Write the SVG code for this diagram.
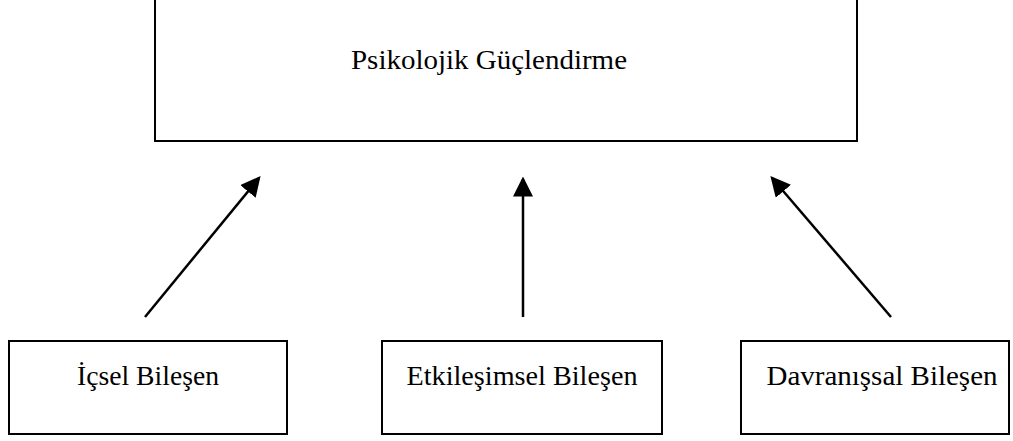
<svg xmlns="http://www.w3.org/2000/svg" width="1013" height="441" viewBox="0 0 1013 441">
<defs>
<style>
.box{fill:#fff;stroke:#000;stroke-width:2}
.lbl{font-family:"Liberation Serif","DejaVu Serif",serif;font-size:27px;fill:#000;text-anchor:middle}
.conn{stroke:#000;stroke-width:2.5;fill:none}
</style>
<marker id="ah" markerWidth="8" markerHeight="8" refX="7" refY="4" orient="auto" markerUnits="strokeWidth">
<path d="M0,0 L8,4 L0,8 Z" fill="#000"/>
</marker>
</defs>
<rect width="1013" height="441" fill="#fff"/>
<g id="top">
<rect class="box" x="155" y="-1" width="702" height="142"/>
<text class="lbl" x="489" y="69" textLength="276" lengthAdjust="spacingAndGlyphs">Psikolojik Güçlendirme</text>
</g>
<g id="n1">
<rect class="box" x="9" y="341" width="278" height="93"/>
<text class="lbl" x="148" y="385" textLength="142" lengthAdjust="spacingAndGlyphs">İçsel Bileşen</text>
</g>
<g id="n2">
<rect class="box" x="382" y="341" width="280" height="93"/>
<text class="lbl" x="522" y="385" textLength="231" lengthAdjust="spacingAndGlyphs">Etkileşimsel Bileşen</text>
</g>
<g id="n3">
<rect class="box" x="741" y="341" width="268" height="93"/>
<text class="lbl" x="882" y="385" textLength="231" lengthAdjust="spacingAndGlyphs">Davranışsal Bileşen</text>
</g>
<g id="connectors">
<line class="conn" x1="145" y1="317" x2="259" y2="178" marker-end="url(#ah)"/>
<line class="conn" x1="523" y1="317" x2="523" y2="179" marker-end="url(#ah)"/>
<line class="conn" x1="891" y1="317" x2="772" y2="178" marker-end="url(#ah)"/>
</g>
</svg>
